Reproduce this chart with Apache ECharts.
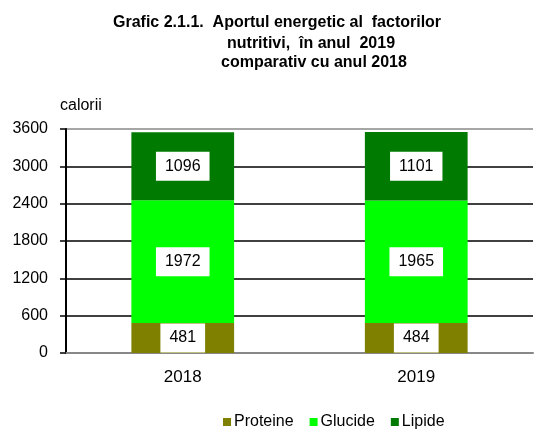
<!DOCTYPE html>
<html><head><meta charset="utf-8">
<script src="https://cdn.jsdelivr.net/npm/echarts@6/dist/echarts.min.js"></script>
<style>html,body{margin:0;padding:0;background:#fff}#c{width:534px;height:432px}</style>
</head><body><div id="c"></div>
<script>
var categories = ['2018', '2019'];
var proteine = [481, 484];
var glucide = [1972, 1965];
var lipide = [1096, 1101];
var yTicks = [0, 600, 1200, 1800, 2400, 3000, 3600];
var seriesNames = ['Proteine', 'Glucide', 'Lipide'];
var colors = ['#808000', '#00FF00', '#007A00'];

var chart = echarts.init(document.getElementById('c'));
var ff = '"Liberation Sans", Arial, sans-serif';
var lbl = {
  show: true, position: 'inside', color: '#000', fontSize: 16, fontFamily: ff,
  backgroundColor: '#fff', padding: [7, 9, 6, 9]
};
function mk(name, data, color) {
  return { name: name, type: 'bar', stack: 's', data: data, barWidth: '44%',
    itemStyle: { color: color }, label: lbl };
}
var ts = { fontSize: 16, fontWeight: 'bold', fontFamily: ff, color: '#000' };
chart.setOption({
  animation: false,
  title: [
    { text: 'Grafic 2.1.1.  Aportul energetic al  factorilor', left: 108, top: 10, textStyle: ts },
    { text: 'nutritivi,  în anul  2019', left: 222, top: 31, textStyle: ts },
    { text: 'comparativ cu anul 2018', left: 216, top: 50, textStyle: ts }
  ],
  legend: {
    data: seriesNames, bottom: -3, left: 218, itemWidth: 8, itemHeight: 8, itemGap: 16,
    icon: 'rect', textStyle: { fontSize: 16, fontFamily: ff, color: '#000', padding: [0, 0, 0, -2] }
  },
  grid: { left: 66, right: 1, top: 129, bottom: 79, containLabel: false },
  xAxis: {
    type: 'category', data: categories,
    axisLine: { lineStyle: { color: '#888', width: 2 } },
    axisTick: { show: false },
    axisLabel: { fontSize: 17, fontFamily: ff, color: '#000', margin: 16 }
  },
  yAxis: {
    type: 'value', min: yTicks[0], max: yTicks[yTicks.length - 1], interval: 600,
    name: 'calorii', nameLocation: 'end', nameGap: 15,
    nameTextStyle: { fontSize: 16, fontFamily: ff, color: '#000', align: 'left', padding: [0, 0, 0, -6] },
    axisLine: { show: true, lineStyle: { color: '#000', width: 2 } },
    axisTick: { show: true, length: 6, lineStyle: { color: '#000', width: 1.5 } },
    axisLabel: { fontSize: 16, fontFamily: ff, color: '#000', margin: 18, formatter: function (v) { return String(v); } },
    splitLine: { show: true, lineStyle: { color: ['#888', '#000', '#000', '#000', '#000', '#000', '#888'], width: 1.5 } }
  },
  series: [
    mk(seriesNames[0], proteine, colors[0]),
    mk(seriesNames[1], glucide, colors[1]),
    mk(seriesNames[2], lipide, colors[2])
  ]
});
</script></body></html>
